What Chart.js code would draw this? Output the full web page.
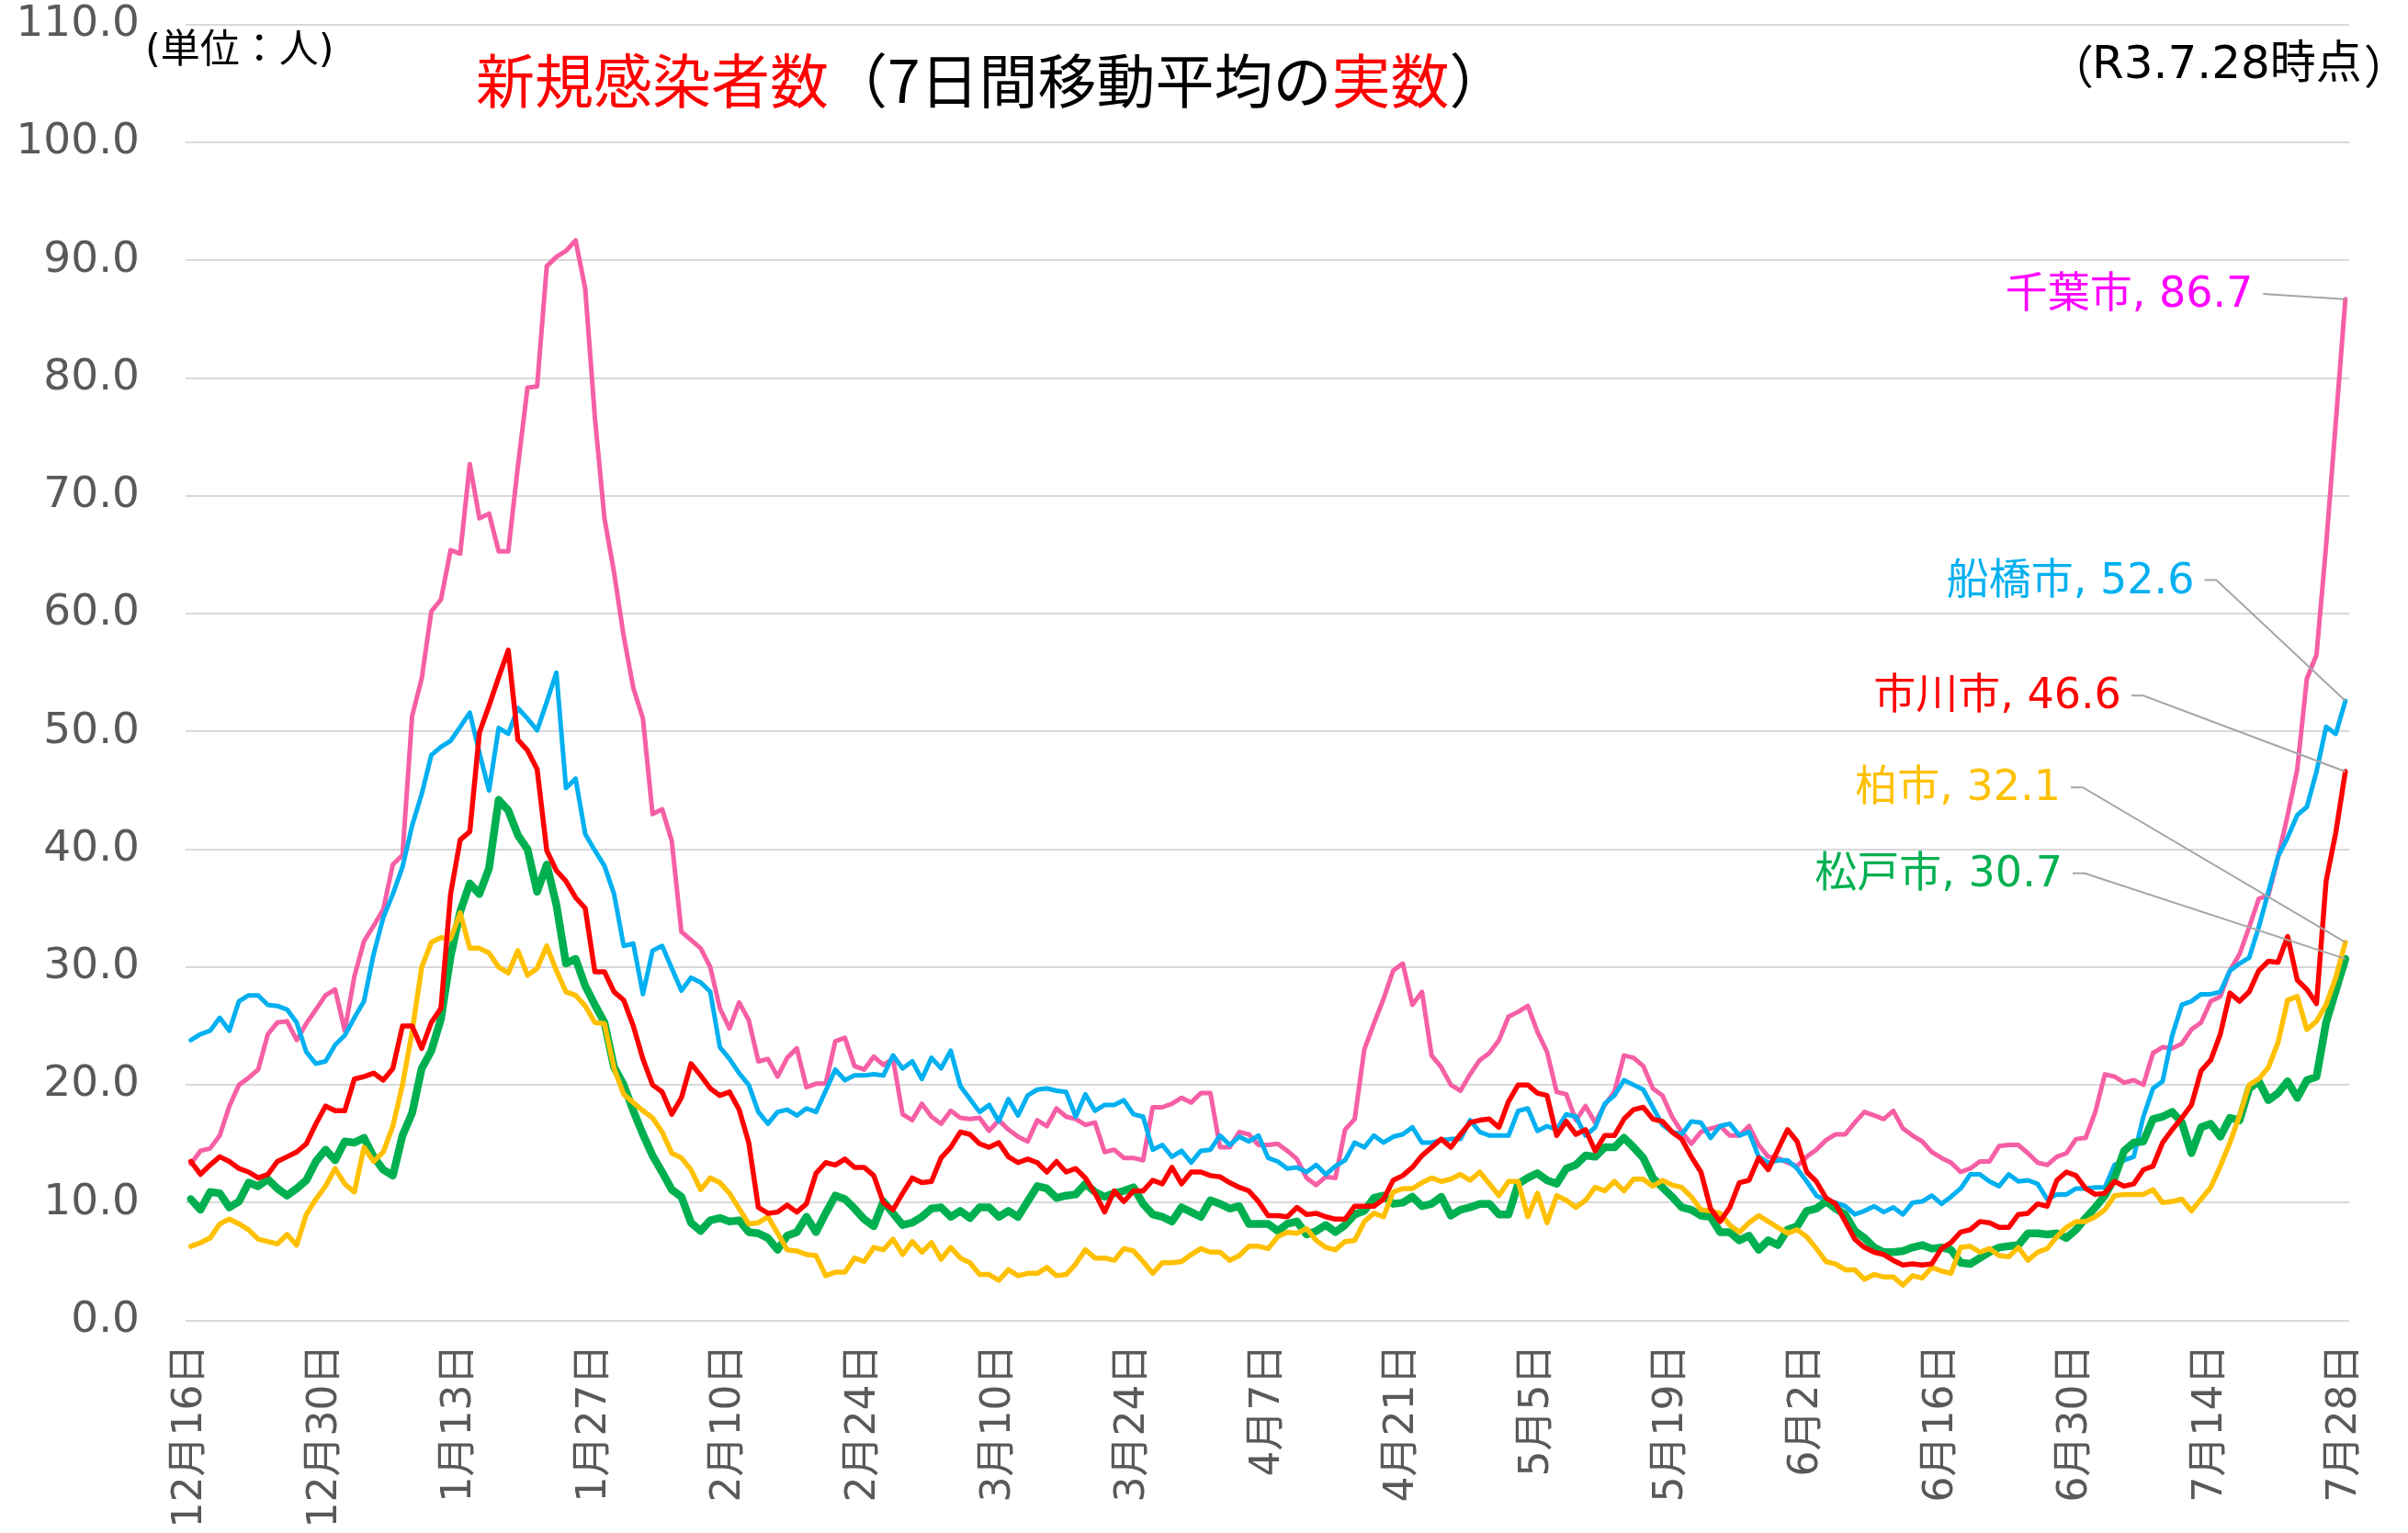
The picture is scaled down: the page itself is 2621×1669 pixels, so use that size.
<!DOCTYPE html>
<html lang="ja">
<head>
<meta charset="utf-8">
<title>新規感染者数（7日間移動平均の実数）</title>
<script src="https://cdn.jsdelivr.net/npm/chart.js"></script>
<style>
  html, body { margin: 0; padding: 0; background: #ffffff; overflow: hidden; }
  canvas { display: block; }
</style>
</head>
<body>
<canvas id="c" width="2621" height="1669"></canvas>
<script>
// ---- data (7-day moving averages, 12/16 .. 7/28, one value per day) ----
const tickLabels = ['12月16日','12月30日','1月13日','1月27日','2月10日','2月24日','3月10日','3月24日',
  '4月7日','4月21日','5月5日','5月19日','6月2日','6月16日','6月30日','7月14日','7月28日'];

const chibaValues = [
  13.3,14.4,14.6,15.7,18.2,20.0,20.6,21.3,24.3,25.3,25.4,23.8,25.2,26.4,27.6,
  28.1,24.6,29.2,32.2,33.5,34.9,38.7,39.5,51.3,54.5,60.2,61.2,65.4,65.1,72.7,
  68.1,68.5,65.3,65.3,72.5,79.2,79.3,89.5,90.3,90.8,91.7,87.6,76.7,68.1,63.5,
  58.1,53.7,51.1,43.0,43.4,40.7,33.0,32.3,31.6,30.0,26.5,24.8,27.0,25.5,22.0,
  22.2,20.7,22.3,23.1,19.8,20.1,20.1,23.7,24.0,21.6,21.3,22.4,21.7,22.2,17.5,
  17.0,18.4,17.3,16.7,17.8,17.2,17.1,17.2,16.1,17.0,16.2,15.6,15.2,17.0,16.5,
  18.0,17.3,17.1,16.6,16.8,14.3,14.5,13.8,13.8,13.6,18.1,18.1,18.4,18.9,18.5,
  19.3,19.3,14.7,14.7,16.0,15.8,14.9,14.9,15.0,14.4,13.7,12.1,11.5,12.2,12.1,
  16.2,17.1,23.0,25.2,27.3,29.7,30.3,26.8,27.9,22.5,21.5,20.0,19.5,20.9,22.1,
  22.7,23.8,25.8,26.2,26.7,24.5,22.8,19.4,19.2,17.0,18.2,16.8,18.3,19.4,22.5,
  22.3,21.6,19.7,19.1,17.3,16.0,15.0,16.0,16.3,16.5,15.7,15.7,16.5,14.9,13.9,
  13.8,13.4,13.1,13.9,14.5,15.3,15.8,15.8,16.8,17.7,17.4,17.1,17.8,16.3,15.7,
  15.2,14.3,13.8,13.4,12.6,12.9,13.5,13.5,14.8,14.9,14.9,14.2,13.4,13.2,13.9,
  14.2,15.4,15.5,17.7,20.9,20.7,20.2,20.4,20.0,22.7,23.2,23.1,23.5,24.7,25.3,
  27.1,27.5,29.7,31.1,33.4,35.8,36.1,39.3,42.9,46.8,54.5,56.5,65.8,76.2,86.7
];

const funabashiValues = [
  23.8,24.3,24.6,25.7,24.6,27.1,27.6,27.6,26.8,26.7,26.4,25.3,22.8,21.8,22.0,
  23.4,24.2,25.7,27.1,31.1,34.2,36.2,38.5,42.0,44.7,48.0,48.7,49.2,50.4,51.6,
  48.2,45.0,50.3,49.8,52.0,51.1,50.1,52.5,55.0,45.2,46.0,41.3,39.9,38.6,36.2,
  31.8,32.0,27.7,31.4,31.8,29.9,28.0,29.1,28.7,27.9,23.2,22.2,21.0,20.0,17.7,
  16.7,17.7,17.9,17.4,18.0,17.7,19.5,21.3,20.4,20.8,20.8,20.9,20.8,22.5,21.4,
  22.0,20.5,22.3,21.4,22.9,19.9,18.8,17.7,18.3,16.9,18.8,17.4,19.1,19.6,19.7,
  19.5,19.4,17.3,19.2,17.8,18.3,18.3,18.7,17.5,17.3,14.5,14.9,13.9,14.4,13.4,
  14.4,14.5,15.7,14.9,15.6,15.2,15.7,13.8,13.5,12.9,13.0,12.6,13.2,12.4,13.1,
  13.6,15.1,14.7,15.7,15.1,15.6,15.8,16.4,15.1,15.1,15.3,15.4,15.4,17.0,16.0,
  15.7,15.7,15.7,17.8,18.0,16.1,16.5,16.2,17.5,17.3,15.7,16.4,18.4,19.1,20.4,
  20.0,19.6,18.1,16.6,16.0,15.8,16.9,16.8,15.5,16.5,16.7,15.7,16.0,13.9,13.4,
  13.6,13.6,12.9,11.8,10.6,10.2,10.0,9.7,9.0,9.3,9.7,9.2,9.6,9.0,10.0,
  10.1,10.6,9.9,10.5,11.2,12.4,12.4,11.8,11.4,12.4,11.8,11.9,11.6,10.3,10.7,
  10.7,11.2,11.2,11.3,11.3,13.2,13.6,13.9,17.3,19.7,20.3,24.2,26.8,27.1,27.7,
  27.7,27.9,29.7,30.3,30.8,33.4,36.4,39.4,41.0,42.9,43.6,46.6,50.4,49.8,52.6
];

const ichikawaValues = [
  13.5,12.4,13.2,13.9,13.5,12.9,12.6,12.1,12.4,13.5,13.9,14.3,15.0,16.7,18.2,
  17.8,17.8,20.5,20.7,21.0,20.4,21.4,25.0,25.0,23.1,25.3,26.5,36.2,40.8,41.5,
  49.9,52.2,54.6,56.9,49.3,48.4,46.8,39.9,38.2,37.3,35.9,35.0,29.6,29.6,27.9,
  27.2,25.0,22.2,20.0,19.4,17.5,18.9,21.8,20.8,19.7,19.1,19.4,17.9,15.1,9.6,
  9.1,9.2,9.8,9.2,9.9,12.5,13.4,13.2,13.7,13.0,13.0,12.3,10.0,9.4,10.8,
  12.1,11.7,11.8,13.8,14.7,16.0,15.8,15.0,14.7,15.1,13.9,13.4,13.7,13.4,12.6,
  13.5,12.6,12.9,12.1,10.8,9.2,11.0,10.1,11.0,11.0,11.9,11.6,13.0,11.6,12.6,
  12.6,12.3,12.2,11.7,11.3,11.0,10.1,8.9,8.9,8.8,9.6,9.0,9.1,8.8,8.6,
  8.6,9.7,9.7,9.7,10.3,11.9,12.3,13.0,14.0,14.7,15.4,14.7,15.8,16.8,17.0,
  17.1,16.4,18.6,20.0,20.0,19.3,19.1,15.7,16.9,15.8,16.2,14.4,15.7,15.7,17.1,
  17.9,18.1,17.1,16.9,16.0,15.4,13.9,12.6,9.5,8.4,9.6,11.7,11.9,13.8,12.8,
  14.5,16.2,15.2,12.6,11.8,10.4,9.9,8.4,6.9,6.2,5.8,5.6,5.1,4.7,4.8,
  4.7,4.8,6.1,6.6,7.5,7.7,8.4,8.3,7.9,7.9,9.0,9.1,9.9,9.7,11.9,
  12.6,12.3,11.2,10.7,10.8,11.8,11.4,11.6,12.8,13.1,15.1,16.2,17.2,18.3,21.2,
  22.1,24.3,27.8,27.1,27.9,29.7,30.5,30.4,32.6,28.9,28.1,26.9,37.3,41.4,46.6
];

const kashiwaValues = [
  6.3,6.6,7.0,8.2,8.6,8.2,7.7,6.9,6.7,6.5,7.3,6.4,9.0,10.3,11.4,
  12.9,11.6,10.9,14.7,13.5,14.3,16.5,20.0,24.5,30.0,32.1,32.5,32.4,34.6,31.6,
  31.6,31.2,30.0,29.5,31.4,29.3,29.9,31.8,29.7,27.9,27.6,26.7,25.3,25.2,21.4,
  19.2,18.5,17.8,17.2,16.0,14.2,13.8,12.8,11.1,12.1,11.7,10.8,9.5,8.2,8.3,
  8.8,7.4,6.0,5.9,5.6,5.5,3.8,4.1,4.1,5.3,5.0,6.2,6.0,6.9,5.6,
  6.7,5.8,6.6,5.2,6.2,5.3,4.9,3.9,3.9,3.4,4.3,3.8,4.0,4.0,4.5,
  3.8,3.9,4.8,6.0,5.3,5.3,5.1,6.1,5.9,5.0,4.0,4.9,4.9,5.0,5.6,
  6.1,5.8,5.8,5.1,5.5,6.3,6.3,6.1,7.1,7.5,7.4,7.8,6.8,6.2,6.0,
  6.7,6.8,8.4,9.1,8.8,10.9,11.2,11.2,11.7,12.1,11.8,12.0,12.4,11.9,12.6,
  11.6,10.6,11.8,11.8,8.8,10.8,8.3,10.6,10.2,9.6,10.2,11.3,11.0,11.8,11.0,
  12.0,12.0,11.4,11.9,11.5,11.3,10.5,9.4,9.3,9.1,8.1,7.5,8.3,8.9,8.4,
  7.9,7.4,7.7,7.1,6.1,5.0,4.8,4.3,4.3,3.5,3.9,3.7,3.7,3.0,3.8,
  3.6,4.5,4.2,4.0,6.2,6.3,5.8,6.1,5.5,5.4,6.2,5.1,5.8,6.1,7.1,
  7.9,8.4,8.4,8.8,9.4,10.6,10.7,10.7,10.7,11.1,10.0,10.1,10.3,9.3,10.3,
  11.3,13.1,15.1,17.4,20.0,20.5,21.5,23.6,27.2,27.5,24.7,25.4,26.8,29.1,32.1
];

const matsudoValues = [
  10.3,9.4,10.9,10.8,9.6,10.1,11.7,11.4,12.0,11.2,10.6,11.2,11.9,13.5,14.5,
  13.6,15.2,15.1,15.5,13.9,12.8,12.3,15.7,17.6,21.4,22.9,25.6,30.9,34.7,37.1,
  36.2,38.4,44.2,43.3,41.2,40.0,36.4,38.7,35.3,30.3,30.7,28.4,26.8,25.3,21.5,
  20.0,17.8,15.8,14.0,12.6,11.1,10.5,8.3,7.6,8.5,8.7,8.4,8.5,7.5,7.4,
  7.0,6.0,7.2,7.5,8.8,7.5,9.1,10.6,10.3,9.5,8.6,8.0,10.1,9.1,8.1,
  8.3,8.8,9.5,9.6,8.8,9.3,8.7,9.6,9.6,8.8,9.3,8.8,10.1,11.4,11.2,
  10.4,10.6,10.7,11.6,10.9,10.5,10.8,11.0,11.3,9.9,9.0,8.8,8.4,9.6,9.2,
  8.8,10.2,9.9,9.5,9.7,8.2,8.2,8.2,7.6,8.2,8.4,7.3,7.6,8.1,7.5,
  8.1,9.0,9.3,10.4,10.6,9.9,10.0,10.5,9.7,9.9,10.5,8.9,9.4,9.6,9.9,
  9.9,9.0,9.0,11.6,12.1,12.5,11.9,11.6,12.9,13.2,14.0,13.9,14.7,14.7,15.5,
  14.7,13.8,12.1,11.3,10.5,9.6,9.4,8.9,8.8,7.5,7.5,6.8,7.2,6.0,6.8,
  6.4,7.7,8.0,9.3,9.5,10.1,9.5,9.0,7.6,7.0,6.2,5.8,5.8,5.9,6.2,
  6.4,6.1,6.2,6.0,4.9,4.8,5.3,5.8,6.2,6.3,6.4,7.4,7.4,7.3,7.4,
  7.0,7.7,8.7,9.6,10.6,12.1,14.4,15.1,15.2,17.1,17.3,17.7,16.8,14.2,16.4,
  16.7,15.6,17.2,17.0,19.7,20.3,18.7,19.3,20.3,18.9,20.4,20.7,25.3,28.0,30.7
];

const cityNames = ['千葉市','船橋市','市川市','柏市','松戸市'];

// ---- styling / layout (kept separate from data) ----
const lineColors = ['#F65FA5','#00B0F0','#FF0000','#FFC000','#00B050'];
const labelColors = ['#FF00FF','#00B0F0','#FF0000','#FFC000','#00B050'];
const lineWidths = [5, 5, 5.5, 5.5, 8.5];
const drawOrder  = [5, 4, 1, 2, 3];     // lower = drawn later (on top)
// end-label anchors in data coordinates (right edge / vertical centre of the text)
const labelAnchors = [
  {ax: 214.4, ay: 87.0, elbow: false},
  {ax: 208.3, ay: 62.7, elbow: true},
  {ax: 200.7, ay: 52.9, elbow: true},
  {ax: 194.4, ay: 45.1, elbow: true},
  {ax: 194.6, ay: 37.8, elbow: true}
];
const allSeries = [chibaValues, funabashiValues, ichikawaValues, kashiwaValues, matsudoValues];
const tickStep = 14;

const LATIN_CJK = "'DejaVu Sans', 'Noto Sans CJK JP', sans-serif";
const CJK = "'Noto Sans CJK JP', 'DejaVu Sans', sans-serif";

const datasets = allSeries.map((vals, k) => ({
  label: cityNames[k],
  data: vals.map((v, i) => ({x: i, y: v})),
  borderColor: lineColors[k],
  backgroundColor: lineColors[k],
  borderWidth: lineWidths[k],
  pointRadius: 0,
  pointHoverRadius: 0,
  tension: 0,
  fill: false,
  borderJoinStyle: 'round',
  borderCapStyle: 'round',
  order: drawOrder[k]
}));

const overlay = {
  id: 'overlay',
  afterDatasetsDraw(chart) {
    const {ctx, scales: {x, y}} = chart;
    ctx.save();
    allSeries.forEach((vals, k) => {
      const a = labelAnchors[k];
      const lastIdx = vals.length - 1;
      const last = vals[lastIdx];
      const px = x.getPixelForValue(a.ax);
      const py = y.getPixelForValue(a.ay);
      const ex = x.getPixelForValue(lastIdx);
      const ey = y.getPixelForValue(last);
      ctx.strokeStyle = '#A6A6A6';
      ctx.lineWidth = 2;
      ctx.beginPath();
      ctx.moveTo(px + 11, py - 2);
      if (a.elbow) ctx.lineTo(px + 24, py - 2);
      ctx.lineTo(ex, ey);
      ctx.stroke();
      ctx.fillStyle = labelColors[k];
      ctx.font = `46px ${LATIN_CJK}`;
      ctx.textAlign = 'right';
      ctx.textBaseline = 'middle';
      ctx.fillText(`${cityNames[k]}, ${last.toFixed(1)}`, px, py);
    });
    ctx.restore();
  },
  afterDraw(chart) {
    const {ctx} = chart;
    ctx.save();
    ctx.textBaseline = 'middle';
    ctx.textAlign = 'left';
    // title with mixed colours
    const parts = [
      ['新規感染者数', '#FF0000'],
      ['（7日間移動平均の', '#000000'],
      ['実数', '#FF0000'],
      ['）', '#000000']
    ];
    ctx.font = `64px ${CJK}`;
    let tx = 518;
    parts.forEach(([t, c]) => {
      ctx.fillStyle = c;
      ctx.fillText(t, tx, 88);
      tx += ctx.measureText(t).width;
    });
    // unit note
    ctx.fillStyle = '#000000';
    ctx.font = `43px ${LATIN_CJK}`;
    ctx.fillText('(単位：人)', 158, 57);
    // date note: full-width brackets around the text
    const inner = 'R3.7.28時点';
    ctx.font = `50px ${LATIN_CJK}`;
    const innerX = 2277;
    ctx.fillText(inner, innerX, 72);
    const innerW = ctx.measureText(inner).width;
    ctx.font = `50px ${CJK}`;
    ctx.textAlign = 'right';
    ctx.fillText('（', innerX + 2, 72);
    ctx.textAlign = 'left';
    ctx.fillText('）', innerX + innerW + 2, 72);
    ctx.restore();
  }
};

new Chart(document.getElementById('c'), {
  type: 'line',
  data: {datasets},
  plugins: [overlay],
  options: {
    responsive: false,
    animation: false,
    devicePixelRatio: 1,
    layout: {padding: {top: 27, right: 64, bottom: 0, left: 0}},
    plugins: {legend: {display: false}, tooltip: {enabled: false}, title: {display: false}},
    scales: {
      x: {
        type: 'linear',
        min: -0.55,
        max: 224.4,
        grid: {display: false},
        border: {display: false},
        afterBuildTicks: (s) => {
          s.ticks = tickLabels.map((_, i) => ({value: i * tickStep}));
        },
        afterFit: (s) => { s.height = 231.4; s.paddingLeft = 0; s.paddingRight = 0; },
        ticks: {
          autoSkip: false,
          minRotation: 90,
          maxRotation: 90,
          padding: 18,
          color: '#595959',
          font: {family: LATIN_CJK, size: 44},
          callback: (v, i) => tickLabels[i]
        }
      },
      y: {
        min: 0,
        max: 110,
        afterFit: (s) => { s.width = 202; s.paddingTop = 0; s.paddingBottom = 0; },
        grid: {color: '#D9D9D9', lineWidth: 2, drawTicks: false},
        border: {display: false},
        ticks: {
          stepSize: 10,
          padding: 50,
          color: '#595959',
          font: {family: "'DejaVu Sans', sans-serif", size: 47},
          callback: (v) => Number(v).toFixed(1)
        }
      }
    }
  }
});
</script>
</body>
</html>
